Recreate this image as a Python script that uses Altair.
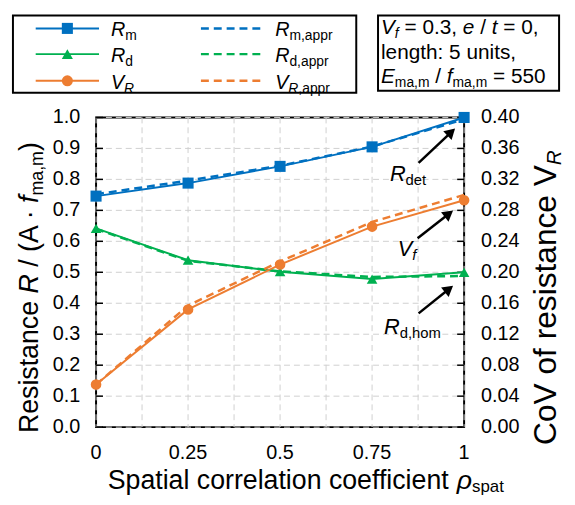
import math
import altair as alt
import pandas as pd

# ---------------- data ----------------
rho = [0.0, 0.25, 0.5, 0.75, 1.0]
R_m = [0.746, 0.788, 0.842, 0.905, 1.000]
R_m_appr = [0.752, 0.796, 0.844, 0.906, 0.994]
R_d = [0.642, 0.539, 0.502, 0.478, 0.500]
R_d_appr = [0.640, 0.537, 0.503, 0.485, 0.488]
V_R = [0.055, 0.152, 0.210, 0.259, 0.293]
V_R_appr = [0.055, 0.157, 0.214, 0.265, 0.300]

x_ticks = [0.0, 0.25, 0.5, 0.75, 1.0]
x_labels = ["0", "0.25", "0.5", "0.75", "1"]
x_grid_values = [0.0, 0.125, 0.25, 0.375, 0.5, 0.625, 0.75, 0.875, 1.0]
left_ticks = [0.0, 0.1, 0.2, 0.3, 0.4, 0.5, 0.6, 0.7, 0.8, 0.9, 1.0]
left_labels = ["0.0", "0.1", "0.2", "0.3", "0.4", "0.5", "0.6", "0.7", "0.8", "0.9", "1.0"]
right_ticks = [0.0, 0.04, 0.08, 0.12, 0.16, 0.2, 0.24, 0.28, 0.32, 0.36, 0.4]
right_labels = ["0.00", "0.04", "0.08", "0.12", "0.16", "0.20", "0.24", "0.28", "0.32", "0.36", "0.40"]

series_names = ["Rm", "Rm_appr", "Rd", "Rd_appr", "VR", "VR_appr"]
series_colors = ["#0070C0", "#0070C0", "#00B050", "#00B050", "#ED7D31", "#ED7D31"]

# ---------------- layout / style ----------------
FONT = "Liberation Sans"
W, H = 372, 313
GRID = "#cfcfcf"
BLUE, GREEN, ORANGE = "#0070C0", "#00B050", "#ED7D31"
TICK_FS = 20

series_vals = [R_m, R_m_appr, R_d, R_d_appr, V_R, V_R_appr]
df = pd.DataFrame([
    {"rho": x, "value": v, "series": n}
    for n, vals in zip(series_names, series_vals)
    for x, v in zip(rho, vals)
])

color = alt.Color("series:N", scale=alt.Scale(domain=series_names, range=series_colors), legend=None)
xs = alt.Scale(domain=[0, 1], nice=False, zero=False)
Xn = alt.X("rho:Q", scale=xs, axis=None)
yR_scale = alt.Scale(domain=[0, 1], nice=False)
YRn = alt.Y("value:Q", scale=yR_scale, axis=None)
yV_scale = alt.Scale(domain=[0, 0.4], nice=False)
YVn = alt.Y("value:Q", scale=yV_scale, axis=None)


def only(names):
    return alt.FieldOneOfPredicate(field="series", oneOf=names)


# ----- grid, ticks, tick labels drawn from the tick arrays -----
xg_df = pd.DataFrame({"rho": x_grid_values})
x_grid = alt.Chart(xg_df).mark_rule(color=GRID, strokeDash=[6, 4], strokeWidth=1).encode(
    x=Xn, y=alt.value(0), y2=alt.value(H))
yl_df = pd.DataFrame({"value": left_ticks, "label": left_labels})
y_grid = alt.Chart(yl_df).mark_rule(color=GRID, strokeDash=[6, 4], strokeWidth=1).encode(
    y=YRn, x=alt.value(0), x2=alt.value(W))
tick_l = alt.Chart(yl_df).mark_rule(color="black", strokeWidth=1.5).encode(y=YRn, x=alt.value(0), x2=alt.value(7))
tick_r = alt.Chart(yl_df).mark_rule(color="black", strokeWidth=1.5).encode(y=YRn, x=alt.value(W - 7), x2=alt.value(W))
lab_l = alt.Chart(yl_df).mark_text(align="right", baseline="middle", fontSize=TICK_FS, color="black").encode(
    y=YRn, x=alt.value(-16), text="label:N")
xl_df = pd.DataFrame({"rho": x_ticks, "label": x_labels})
lab_x = alt.Chart(xl_df).mark_text(align="center", baseline="top", fontSize=TICK_FS, color="black").encode(
    x=Xn, y=alt.value(H + 16), text="label:N")
yr_df = pd.DataFrame({"value": right_ticks, "label": right_labels})
lab_r = alt.Chart(yr_df).mark_text(align="left", baseline="middle", fontSize=TICK_FS, color="black").encode(
    y=YVn, x=alt.value(W + 17), text="label:N")

# ----- data marks -----
base = alt.Chart(df)
r_solid = base.mark_line(strokeWidth=2).encode(x=Xn, y=YRn, color=color).transform_filter(only(["Rm", "Rd"]))
r_dash = base.mark_line(strokeWidth=2.5, strokeDash=[8, 5]).encode(x=Xn, y=YRn, color=color).transform_filter(only(["Rm_appr", "Rd_appr"]))
r_sq = base.mark_point(shape="square", filled=True, size=125, opacity=1).encode(x=Xn, y=YRn, color=color).transform_filter(only(["Rm"]))
r_tri = base.mark_point(shape="triangle-up", filled=True, size=115, opacity=1).encode(x=Xn, y=YRn, color=color).transform_filter(only(["Rd"]))
R_group = alt.layer(x_grid, y_grid, tick_l, tick_r, lab_l, lab_x, r_solid, r_dash, r_sq, r_tri)

v_solid = base.mark_line(strokeWidth=2).encode(x=Xn, y=YVn, color=color).transform_filter(only(["VR"]))
v_dash = base.mark_line(strokeWidth=2.5, strokeDash=[8, 5]).encode(x=Xn, y=YVn, color=color).transform_filter(only(["VR_appr"]))
v_circ = base.mark_point(shape="circle", filled=True, size=115, opacity=1).encode(x=Xn, y=YVn, color=color).transform_filter(only(["VR"]))
V_group = alt.layer(lab_r, v_solid, v_dash, v_circ)

# ---------------- rich text helper (pixel positions in view coords) ----------------
AW = {' ': 278, '(': 333, ')': 333, ',': 278, '.': 278, '/': 278, ':': 278, '=': 584, '·': 278,
      'A': 667, 'C': 722, 'E': 667, 'R': 722, 'S': 667, 'V': 667,
      'a': 556, 'c': 500, 'd': 556, 'e': 556, 'f': 278, 'g': 556, 'h': 556, 'i': 222, 'l': 222,
      'm': 833, 'n': 556, 'o': 556, 'p': 556, 'r': 333, 's': 500, 't': 278, 'u': 556, 'ρ': 578}


def tw(s, size):
    return sum(AW.get(c, 556) for c in s) * size / 1000.0


text_rows = []


def rich(parts, x0, y0, rotated=False, center=False):
    total = sum(tw(t, sz) for t, sz, it, dy in parts)
    pos = -total / 2 if center else 0.0
    for t, sz, it, dy in parts:
        lead = len(t) - len(t.lstrip(' '))
        s = t.strip(' ')
        p = pos + tw(' ' * lead, sz)
        if s:
            if rotated:
                text_rows.append(dict(x=x0 + dy, y=y0 - p, text=s, size=sz, italic=it, angle=270))
            else:
                text_rows.append(dict(x=x0 + p, y=y0 + dy, text=s, size=sz, italic=it, angle=0))
        pos += tw(t, sz)


# x title
rich([("Spatial correlation coefficient ", 27, False, 0), ("ρ", 27, True, 0), ("spat", 17, False, 3)],
     212, 376, center=True)
# left title
rich([("Resistance ", 27, False, 0), ("R", 27, True, 0), (" / (A · ", 27, False, 0), ("f", 27, True, 0),
      ("ma,m", 18, False, 5), (")", 27, False, 0)], -59, 172, rotated=True, center=True)
# right title
rich([("CoV of resistance V", 32, False, 0), ("R", 21, True, 5)], 465, 182, rotated=True, center=True)

# legend texts
LF, LS = 20, 14
rows_y = [-90, -64, -37]
col1_tx, col2_tx = 15, 181
rich([("R", LF, True, 0), ("m", LS, False, 4)], col1_tx, rows_y[0] + 8)
rich([("R", LF, True, 0), ("d", LS, False, 4)], col1_tx, rows_y[1] + 8)
rich([("V", LF, True, 0), ("R", LS, True, 4)], col1_tx, rows_y[2] + 8)
rich([("R", LF, True, 0), ("m,appr", LS, False, 4)], col2_tx, rows_y[0] + 8)
rich([("R", LF, True, 0), ("d,appr", LS, False, 4)], col2_tx, rows_y[1] + 8)
rich([("V", LF, True, 0), ("R", LS, True, 4), (",appr", LS, False, 4)], col2_tx, rows_y[2] + 8)

# info box texts
BF, BS = 21, 14
bx = 288
rich([("V", BF, True, 0), ("f", BS, True, 4), (" = 0.3, ", BF, False, 0), ("e", BF, True, 0),
      (" / ", BF, False, 0), ("t", BF, True, 0), (" = 0,", BF, False, 0)], bx, -84)
rich([("length: 5 units,", BF, False, 0)], bx, -59)
rich([("E", BF, True, 0), ("ma,m", BS, False, 4), (" / ", BF, False, 0), ("f", BF, True, 0),
      ("ma,m", BS, False, 4), (" = 550", BF, False, 0)], bx, -35)

# annotations
AF, AS = 22, 15
rich([("R", AF, True, 0), ("det", AS, False, 4)], 297, 64)
rich([("V", AF, True, 0), ("f", AS, True, 4)], 305, 140)
rich([("R", AF, True, 0), ("d,hom", AS, False, 4)], 291, 219)

tdf = pd.DataFrame(text_rows)
PX = alt.X("x:Q", scale=None, axis=None)
PY = alt.Y("y:Q", scale=None, axis=None)
txt_enc = dict(x=PX, y=PY, text="text:N", size=alt.Size("size:Q", scale=None, legend=None),
               angle=alt.Angle("angle:Q", scale=None, legend=None))
txt_norm = alt.Chart(tdf).mark_text(align="left", baseline="alphabetic", color="black").encode(**txt_enc).transform_filter("!datum.italic")
txt_ital = alt.Chart(tdf).mark_text(align="left", baseline="alphabetic", color="black", fontStyle="italic").encode(**txt_enc).transform_filter("datum.italic")

# boxes
one = pd.DataFrame({"a": [0]})
leg_box = alt.Chart(one).mark_rect(fill="white", stroke="black", strokeWidth=2).encode(
    x=alt.value(-84), x2=alt.value(263), y=alt.value(-103), y2=alt.value(-25))
info_box = alt.Chart(one).mark_rect(fill="white", stroke="black", strokeWidth=2).encode(
    x=alt.value(285), x2=alt.value(468), y=alt.value(-103), y2=alt.value(-27))

# legend symbols
leg_lines = pd.DataFrame({
    "x1": [-61, -61, -61, 106, 106, 106],
    "x2": [3, 3, 3, 166, 166, 166],
    "y": rows_y + rows_y,
    "color": [BLUE, GREEN, ORANGE, BLUE, GREEN, ORANGE],
    "dashed": [False, False, False, True, True, True],
})
LX1 = alt.X("x1:Q", scale=None, axis=None)
LC = alt.Color("color:N", scale=None, legend=None)
leg_solid = alt.Chart(leg_lines).mark_rule(strokeWidth=2).encode(x=LX1, x2="x2:Q", y=PY, color=LC).transform_filter("!datum.dashed")
leg_dash = alt.Chart(leg_lines).mark_rule(strokeWidth=2.5, strokeDash=[8, 5]).encode(x=LX1, x2="x2:Q", y=PY, color=LC).transform_filter("datum.dashed")
leg_marks = pd.DataFrame({"x": [-29, -29, -29], "y": rows_y, "shape": ["square", "triangle-up", "circle"],
                          "color": [BLUE, GREEN, ORANGE]})
leg_pts = alt.Chart(leg_marks).mark_point(filled=True, size=125, opacity=1).encode(
    x=PX, y=PY, color=LC, shape=alt.Shape("shape:N", scale=None, legend=None))

# arrows
arrows = [((326, 46), (363, 11)), ((325, 122), (361, 94)), ((326, 198), (361, 170))]
arow, hrow = [], []
for (sx, sy), (ex, ey) in arrows:
    L = math.hypot(ex - sx, ey - sy)
    ux, uy = (ex - sx) / L, (ey - sy) / L
    cx, cy = ex - 5.5 * ux, ey - 5.5 * uy
    arow.append(dict(x=sx, y=sy, x2=cx, y2=cy))
    hrow.append(dict(x=cx, y=cy, ang=math.degrees(math.atan2(ux, -uy))))
arr_lines = alt.Chart(pd.DataFrame(arow)).mark_rule(color="black", strokeWidth=2.5).encode(
    x=PX, y=PY, x2="x2:Q", y2="y2:Q")
arr_heads = alt.Chart(pd.DataFrame(hrow)).mark_point(shape="triangle-up", filled=True, color="black",
                                                     size=150, opacity=1).encode(
    x=PX, y=PY, angle=alt.Angle("ang:Q", scale=None, legend=None))

chart = alt.layer(
    R_group, V_group,
    leg_box, info_box, leg_solid, leg_dash, leg_pts,
    arr_lines, arr_heads, txt_norm, txt_ital,
).resolve_scale(y="independent").properties(
    width=W, height=H,
    padding={"left": 89, "top": 108, "right": 104, "bottom": 68},
    autosize=alt.AutoSizeParams(type="none"),
).configure_view(stroke="black", strokeWidth=2).configure_text(font=FONT)

chart.save("out.html", embed_options={"renderer": "svg", "actions": False})
